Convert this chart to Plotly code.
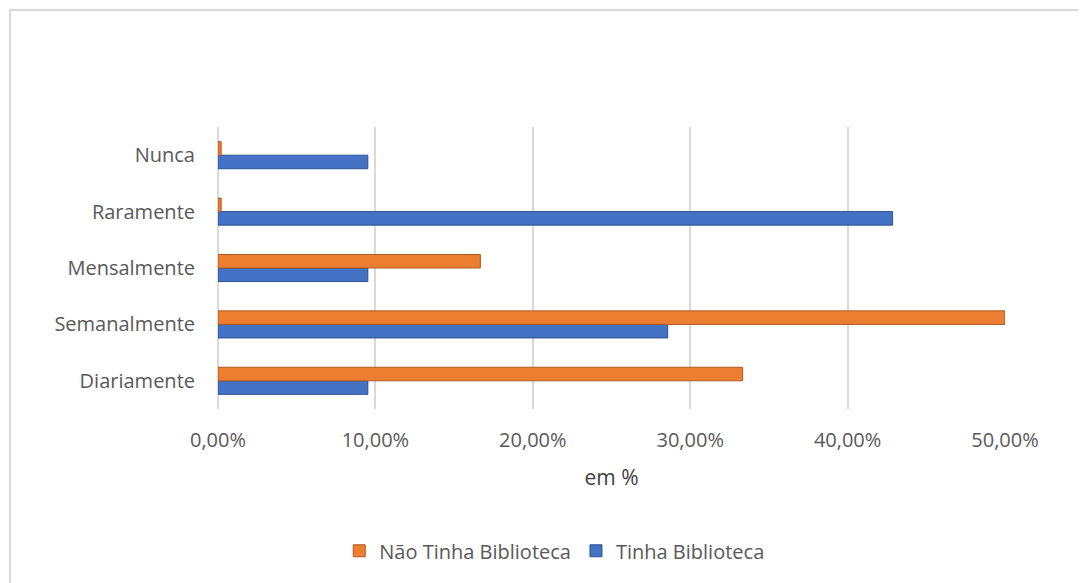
import plotly.graph_objects as go

categories = ["Diariamente", "Semanalmente", "Mensalmente", "Raramente", "Nunca"]
tinha = [0.0952, 0.2857, 0.0952, 0.4286, 0.0952]
nao_tinha = [0.3333, 0.5000, 0.1667, 0.0020, 0.0020]
x_ticks = [0, 0.1, 0.2, 0.3, 0.4, 0.5]

font = "Open Sans"
gray = "#595959"

fig = go.Figure()
fig.add_trace(go.Bar(
    y=categories, x=tinha, orientation="h", name="Tinha Biblioteca",
    marker=dict(color="#4472C4", line=dict(color="#2F528F", width=1)),
    legendrank=2,
))
fig.add_trace(go.Bar(
    y=categories, x=nao_tinha, orientation="h", name="Não Tinha Biblioteca",
    marker=dict(color="#ED7D31", line=dict(color="#AE5A21", width=1)),
    legendrank=1,
))

fig.update_layout(
    width=1086, height=583,
    margin=dict(l=210, r=89, t=119, b=182),
    paper_bgcolor="white", plot_bgcolor="white",
    separators=",.",
    barmode="group", bargap=0.52, bargroupgap=0,
    font=dict(family=font, size=20, color=gray),
    xaxis=dict(
        range=[0, 0.5], tickvals=x_ticks, tickformat=".2%",
        showgrid=True, gridcolor="#D9D9D9", gridwidth=2,
        zeroline=True, zerolinecolor="#D9D9D9", zerolinewidth=2,
        ticklabelstandoff=17,
        title=dict(text="em %", standoff=18, font=dict(size=21, color="#404040")),
    ),
    yaxis=dict(
        range=[-0.5, 4.5], showgrid=False, ticklabelstandoff=22,
    ),
    legend=dict(
        orientation="h", xref="container", yref="container",
        x=0.503, y=0.069, xanchor="center", yanchor="middle",
        font=dict(size=20, color=gray),
    ),
    shapes=[dict(
        type="rect", xref="paper", yref="paper",
        x0=-0.2643, x1=1.2, y0=-0.8, y1=1.4149,
        line=dict(color="#D9D9D9", width=2),
    )],
)

fig.write_html("out.html")
